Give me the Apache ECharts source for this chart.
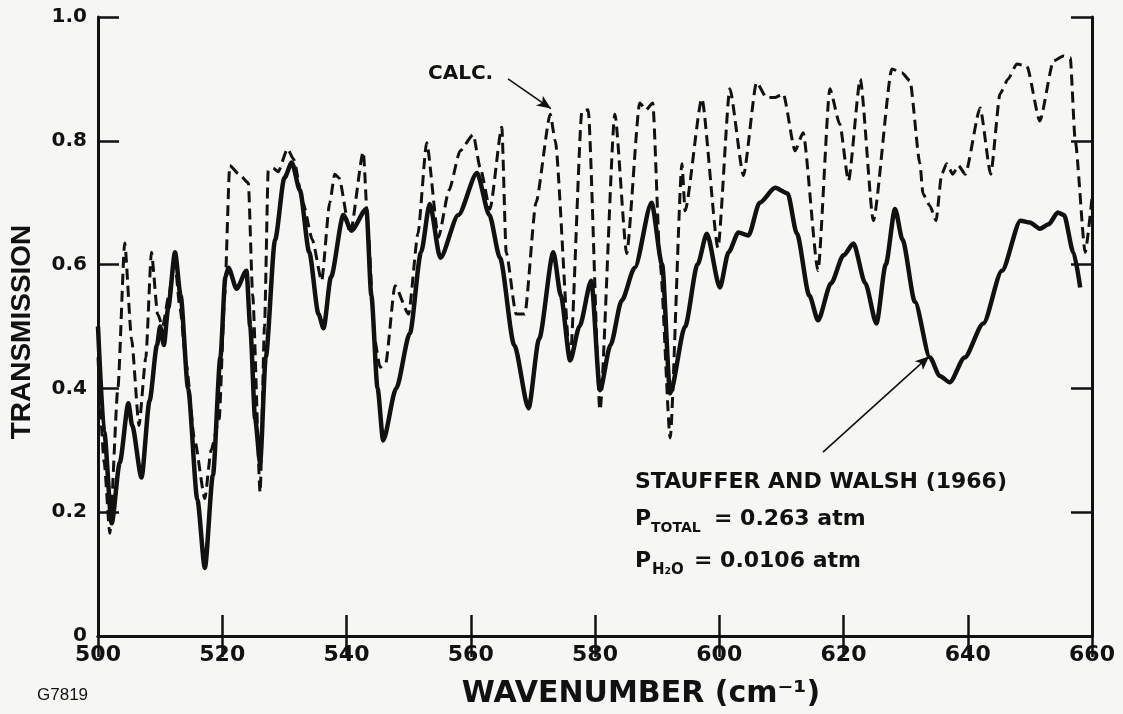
<!DOCTYPE html>
<html>
<head>
<meta charset="utf-8">
<script src="https://cdn.jsdelivr.net/npm/echarts@6/dist/echarts.min.js"></script>
<style>
  html, body { margin: 0; padding: 0; background: #f6f6f4; }
  #chart { width: 1123px; height: 714px; }
</style>
</head>
<body>
<div id="chart"></div>
<script>
// ---- data ----
const xTicks = [500, 520, 540, 560, 580, 600, 620, 640, 660];
const yTicks = [0, 0.2, 0.4, 0.6, 0.8, 1.0];

// CALC. (dashed)
const calcWn = [500, 501, 501.9, 503.2, 504.3, 505.4, 506.6, 507.7, 508.6, 509.6, 510.4, 511.4, 512.3, 513.2, 514.2, 515.5, 517.2, 518.2, 519.5, 520.4, 521.2, 522.6, 524.2, 524.9, 526.1, 526.8, 527.4, 528.2, 529.0, 530.5, 531.5, 533.0, 534.5, 536.0, 537.3, 538.1, 538.8, 540.6, 542.7, 543.5, 544.5, 545.4, 546.3, 547.8, 550.0, 551.5, 552.9, 554.8, 556.5, 558.3, 560.4, 561.5, 563.1, 565.0, 565.7, 567.3, 568.7, 570.5, 572.8, 573.6, 576.0, 577.9, 578.9, 580.8, 583.2, 585.1, 587.2, 588.2, 589.3, 590.5, 592.1, 594.0, 594.5, 597.2, 599.8, 601.7, 603.9, 606.0, 607.6, 609.0, 610.3, 612.2, 613.5, 615.9, 617.8, 619.4, 620.8, 622.7, 624.8, 627.8, 629.4, 630.7, 632.3, 632.8, 633.9, 634.9, 635.8, 636.6, 637.6, 638.5, 639.6, 642.0, 643.7, 645.2, 646.5, 647.9, 649.5, 651.6, 653.8, 655.4, 656.5, 657.3, 658.9, 660];
const calcT  = [0.45, 0.28, 0.166, 0.40, 0.635, 0.48, 0.34, 0.45, 0.62, 0.52, 0.50, 0.55, 0.61, 0.53, 0.44, 0.32, 0.222, 0.30, 0.35, 0.55, 0.76, 0.747, 0.732, 0.55, 0.232, 0.50, 0.752, 0.756, 0.75, 0.787, 0.77, 0.70, 0.64, 0.574, 0.70, 0.746, 0.74, 0.65, 0.782, 0.65, 0.48, 0.434, 0.44, 0.566, 0.52, 0.65, 0.797, 0.644, 0.72, 0.784, 0.81, 0.757, 0.69, 0.822, 0.62, 0.52, 0.52, 0.70, 0.843, 0.80, 0.445, 0.848, 0.85, 0.365, 0.843, 0.618, 0.861, 0.85, 0.861, 0.60, 0.32, 0.763, 0.687, 0.868, 0.627, 0.884, 0.744, 0.894, 0.87, 0.87, 0.876, 0.784, 0.813, 0.59, 0.884, 0.827, 0.735, 0.90, 0.671, 0.916, 0.91, 0.897, 0.763, 0.714, 0.695, 0.671, 0.746, 0.763, 0.746, 0.76, 0.746, 0.853, 0.746, 0.876, 0.90, 0.924, 0.921, 0.832, 0.929, 0.937, 0.934, 0.80, 0.62, 0.708];

// STAUFFER AND WALSH (1966) (solid)
const obsWn = [500, 501, 502.2, 503.5, 504.9, 505.5, 507.0, 508.3, 509.5, 510.0, 510.6, 511.3, 512.4, 513.3, 514.5, 516.0, 517.2, 518.5, 519.7, 520.5, 521.0, 522.3, 523.9, 524.5, 525.3, 526.1, 527.0, 528.5, 530.0, 531.2, 532.5, 534.0, 535.5, 536.3, 537.5, 539.5, 540.8, 543.2, 544.0, 545.0, 545.9, 548.0, 550.2, 552.0, 553.4, 555.1, 558.0, 561.0, 563.0, 564.7, 567.0, 569.3, 571.0, 573.3, 574.5, 576.0, 577.5, 579.4, 580.8, 582.5, 584.3, 586.4, 589.1, 590.8, 592.1, 594.5, 596.5, 598.0, 600.1, 601.5, 603.1, 604.7, 606.5, 609.0, 611.0, 612.5, 614.5, 615.9, 618.0, 620.0, 621.6, 623.5, 625.3, 626.8, 628.3, 629.5, 631.5, 633.9, 635.5, 637.1, 639.5, 642.5, 645.5, 648.5, 650.0, 651.6, 653.0, 654.5, 655.5, 657.0, 658.1];
const obsT  = [0.50, 0.33, 0.182, 0.28, 0.376, 0.34, 0.256, 0.38, 0.47, 0.50, 0.47, 0.53, 0.62, 0.55, 0.40, 0.22, 0.11, 0.26, 0.45, 0.58, 0.595, 0.561, 0.59, 0.50, 0.35, 0.28, 0.45, 0.64, 0.74, 0.765, 0.72, 0.62, 0.52, 0.497, 0.58, 0.68, 0.655, 0.69, 0.55, 0.40, 0.316, 0.40, 0.489, 0.62, 0.698, 0.611, 0.68, 0.748, 0.68, 0.611, 0.47, 0.368, 0.48, 0.62, 0.55, 0.445, 0.50, 0.574, 0.397, 0.47, 0.542, 0.595, 0.70, 0.60, 0.392, 0.50, 0.60, 0.65, 0.563, 0.62, 0.652, 0.647, 0.70, 0.724, 0.715, 0.65, 0.55, 0.51, 0.57, 0.615, 0.634, 0.57, 0.505, 0.60, 0.69, 0.64, 0.54, 0.45, 0.42, 0.41, 0.45, 0.505, 0.59, 0.671, 0.668, 0.658, 0.665, 0.684, 0.68, 0.62, 0.563];

// annotation arrows (data coordinates: tail -> tip)
const calcArrow = [[566.0, 0.90], [572.9, 0.852]];
const obsArrow  = [[616.7, 0.297], [633.8, 0.452]];

const ink = '#111111';
const FONT = 'DejaVu Sans';

const calcData = calcWn.map((w, i) => [w, calcT[i]]);
const obsData  = obsWn.map((w, i) => [w, obsT[i]]);

function arrowLine(a) {
  return [
    { coord: a[0], symbol: 'none' },
    { coord: a[1], symbol: 'arrow', symbolSize: [9, 14] }
  ];
}

const chart = echarts.init(document.getElementById('chart'), null, { renderer: 'canvas' });

const axisLine = { show: true, lineStyle: { color: ink, width: 3 } };
const axisTickIn = { show: true, inside: true, length: 21, lineStyle: { color: ink, width: 2.5 } };

chart.setOption({
  backgroundColor: '#f6f6f4',
  animation: false,
  grid: { left: 98, right: 31, top: 17, bottom: 78, containLabel: false },
  xAxis: [
    {
      type: 'value', min: xTicks[0], max: xTicks[xTicks.length - 1], interval: 20,
      position: 'bottom',
      axisLine: axisLine, axisTick: axisTickIn, splitLine: { show: false },
      axisLabel: { color: ink, fontFamily: FONT, fontWeight: 'bold', fontSize: 22, margin: 8 }
    },
    {
      type: 'value', min: xTicks[0], max: xTicks[xTicks.length - 1], interval: 20,
      position: 'top',
      axisLine: axisLine, axisTick: axisTickIn, splitLine: { show: false },
      axisLabel: { show: false }
    }
  ],
  yAxis: [
    {
      type: 'value', min: yTicks[0], max: yTicks[yTicks.length - 1], interval: 0.2,
      position: 'left',
      axisLine: axisLine, axisTick: axisTickIn, splitLine: { show: false },
      axisLabel: {
        color: ink, fontFamily: FONT, fontWeight: 'bold', fontSize: 20, margin: 11,
        formatter: v => (v === 0 ? '0' : v.toFixed(1))
      }
    },
    {
      type: 'value', min: yTicks[0], max: yTicks[yTicks.length - 1], interval: 0.2,
      position: 'right',
      axisLine: axisLine, axisTick: axisTickIn, splitLine: { show: false },
      axisLabel: { show: false }
    }
  ],
  series: [
    {
      name: 'CALC.', type: 'line', data: calcData, showSymbol: false,
      smooth: 0.2, smoothMonotone: 'x',
      lineStyle: { color: ink, width: 3, type: [11, 6] },
      z: 3,
      markLine: {
        silent: true, animation: false,
        label: { show: false },
        lineStyle: { color: ink, width: 1.6, type: 'solid' },
        data: [arrowLine(calcArrow)]
      }
    },
    {
      name: 'STAUFFER AND WALSH (1966)', type: 'line', data: obsData, showSymbol: false,
      smooth: 0.25, smoothMonotone: 'x',
      lineStyle: { color: ink, width: 4.5 },
      z: 4,
      markLine: {
        silent: true, animation: false,
        label: { show: false },
        lineStyle: { color: ink, width: 1.6, type: 'solid' },
        data: [arrowLine(obsArrow)]
      }
    }
  ],
  graphic: [
    { type: 'text', x: 22, y: 332, rotation: Math.PI / 2,
      style: { text: 'TRANSMISSION', font: 'bold 28px "Liberation Sans"', fill: ink, textAlign: 'center', textVerticalAlign: 'middle' } },
    { type: 'text', x: 641, y: 694,
      style: { text: 'WAVENUMBER (cm⁻¹)', font: 'bold 30px "DejaVu Sans"', fill: ink, textAlign: 'center', textVerticalAlign: 'middle' } },
    { type: 'text', x: 37, y: 695,
      style: { text: 'G7819', font: '17px "Liberation Sans"', fill: ink, textAlign: 'left', textVerticalAlign: 'middle' } },
    { type: 'text', x: 428, y: 74,
      style: { text: 'CALC.', font: 'bold 20px "DejaVu Sans"', fill: ink, textAlign: 'left', textVerticalAlign: 'middle' } },
    { type: 'text', x: 635, y: 482,
      style: { text: 'STAUFFER AND WALSH (1966)', font: 'bold 22px "DejaVu Sans"', fill: ink, textAlign: 'left', textVerticalAlign: 'middle' } },
    { type: 'text', x: 635, y: 519,
      style: { text: 'P', font: 'bold 22px "DejaVu Sans"', fill: ink, textAlign: 'left', textVerticalAlign: 'middle' } },
    { type: 'text', x: 651, y: 528,
      style: { text: 'TOTAL', font: 'bold 14px "DejaVu Sans"', fill: ink, textAlign: 'left', textVerticalAlign: 'middle' } },
    { type: 'text', x: 714, y: 519,
      style: { text: '= 0.263 atm', font: 'bold 22px "DejaVu Sans"', fill: ink, textAlign: 'left', textVerticalAlign: 'middle' } },
    { type: 'text', x: 635, y: 561,
      style: { text: 'P', font: 'bold 22px "DejaVu Sans"', fill: ink, textAlign: 'left', textVerticalAlign: 'middle' } },
    { type: 'text', x: 652, y: 570,
      style: { text: 'H₂O', font: 'bold 15px "DejaVu Sans"', fill: ink, textAlign: 'left', textVerticalAlign: 'middle' } },
    { type: 'text', x: 694, y: 561,
      style: { text: '= 0.0106 atm', font: 'bold 22px "DejaVu Sans"', fill: ink, textAlign: 'left', textVerticalAlign: 'middle' } }
  ]
});
</script>
</body>
</html>
